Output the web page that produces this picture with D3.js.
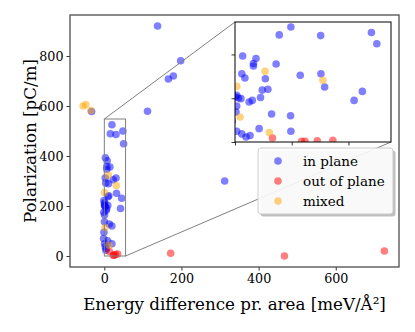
<!DOCTYPE html>
<html><head><meta charset="utf-8">
<script src="https://cdn.jsdelivr.net/npm/d3@7"></script>
<style>body{margin:0;background:#fff}svg{display:block}text{font-family:"DejaVu Serif",serif;fill:#000}</style>
</head><body><svg id="c" width="415" height="332"></svg>
<script>
// ---- data ----
const inPlaneX = [138,198,166,179,112,312,-33,
  19.7,15.6,30.2,48.1,50,2.7,7.4,6.5,6.5,14.5,2.4,3.5,10.7,23,30.3,31.6,9.6,11.6,0.6,1.2,2.1,5,6.1,9,0.6,0.35,12.9,19.6,44.9,42,0.6,2.4,3.9,5.3,8.5,19.7,-1,-1.5,-1,-2,0.2];
const inPlaneY = [920,781,708,720,579,300,578,
  525,489,486,500,449,393,381,358,347,356,312,292,289,305,312,251,237,241,213,201,198,183,190,203,164,137,128,120,231,190,49,37,23,30,61,49,222,175,95,70,205];
const outPlaneX = [172,467,726,13.2,23.5,24.7,29,34.5];
const outPlaneY = [11,0,20,18,3,3,6,8];
const mixedX = [-55,-48,-35,10.6,31,0.6,1.8,12.1];
const mixedY = [600,606,582,323,282,254,114,43];
const xTicks = [0,200,400,600];
const yTicks = [0,200,400,600,800];
const insetXTicks = [0,20,40];
const insetYTicks = [0,200,400];
const seriesNames = ["in plane","out of plane","mixed"];
const seriesColors = ["blue","red","orange"];

const series = [
  {name:seriesNames[0], color:seriesColors[0], x:inPlaneX, y:inPlaneY},
  {name:seriesNames[1], color:seriesColors[1], x:outPlaneX, y:outPlaneY},
  {name:seriesNames[2], color:seriesColors[2], x:mixedX, y:mixedY}
];

const svg = d3.select("#c");
const M = {l:70, r:399, t:15, b:267};
const x = d3.scaleLinear().domain([-89,764]).range([M.l,M.r]);
const y = d3.scaleLinear().domain([-44,964]).range([M.b,M.t]);
const R = 3.8, tickFont = "12.7px";

// main clip
svg.append("clipPath").attr("id","mc").append("rect").attr("x",M.l).attr("y",M.t).attr("width",M.r-M.l).attr("height",M.b-M.t);

// points
const gm = svg.append("g").attr("clip-path","url(#mc)");
series.forEach(s=>{
  gm.selectAll(null).data(s.x.map((d,i)=>[d,s.y[i]])).enter().append("circle")
    .attr("cx",d=>x(d[0])).attr("cy",d=>y(d[1])).attr("r",R)
    .attr("fill",s.color).attr("fill-opacity",0.5);
});

// axes
const xa = svg.append("g").attr("transform",`translate(0,${M.b})`)
  .call(d3.axisBottom(x).tickValues(xTicks).tickSize(3.5).tickPadding(3));
const ya = svg.append("g").attr("transform",`translate(${M.l},0)`)
  .call(d3.axisLeft(y).tickValues(yTicks).tickSize(3.5).tickPadding(3));
[xa,ya].forEach(a=>{a.select(".domain").remove();
  a.selectAll("text").style("font-family","DejaVu Serif").style("font-size",tickFont).attr("fill","#000");
  a.selectAll("line").attr("stroke","#000").attr("stroke-width",0.8);});

// inset region
const I = {l:235, r:391, t:22, b:142};
const xi = d3.scaleLinear().domain([0,55]).range([I.l,I.r]);
const yi = d3.scaleLinear().domain([0,548]).range([I.b,I.t]);

// zoom rectangle & connectors
const rx0 = x(0), rx1 = x(55), ry0 = y(548), ry1 = y(0);
svg.append("rect").attr("x",rx0).attr("y",ry0).attr("width",rx1-rx0).attr("height",ry1-ry0)
  .attr("fill","none").attr("stroke","#808080").attr("stroke-width",1);
svg.append("line").attr("x1",rx0).attr("y1",ry0).attr("x2",I.l).attr("y2",I.t).attr("stroke","#808080").attr("stroke-width",1);
svg.append("line").attr("x1",rx1).attr("y1",ry1).attr("x2",I.r).attr("y2",I.b).attr("stroke","#808080").attr("stroke-width",1);

// main frame
svg.append("rect").attr("x",M.l).attr("y",M.t).attr("width",M.r-M.l).attr("height",M.b-M.t)
  .attr("fill","none").attr("stroke","#4d4d4d").attr("stroke-width",1.3);

// inset
svg.append("rect").attr("x",I.l).attr("y",I.t).attr("width",I.r-I.l).attr("height",I.b-I.t).attr("fill","#fff");
svg.append("clipPath").attr("id","ic").append("rect").attr("x",I.l).attr("y",I.t).attr("width",I.r-I.l).attr("height",I.b-I.t);
const gi = svg.append("g").attr("clip-path","url(#ic)");
series.forEach(s=>{
  gi.selectAll(null).data(s.x.map((d,i)=>[d,s.y[i]])).enter().append("circle")
    .attr("cx",d=>xi(d[0])).attr("cy",d=>yi(d[1])).attr("r",R)
    .attr("fill",s.color).attr("fill-opacity",0.5);
});
const xia = svg.append("g").attr("transform",`translate(0,${I.b})`)
  .call(d3.axisBottom(xi).tickValues(insetXTicks).tickSize(3.5).tickFormat(""));
const yia = svg.append("g").attr("transform",`translate(${I.l},0)`)
  .call(d3.axisLeft(yi).tickValues(insetYTicks).tickSize(3.5).tickFormat(""));
[xia,yia].forEach(a=>{a.select(".domain").remove();a.selectAll("line").attr("stroke","#000").attr("stroke-width",0.8);});
svg.append("rect").attr("x",I.l).attr("y",I.t).attr("width",I.r-I.l).attr("height",I.b-I.t)
  .attr("fill","none").attr("stroke","#000").attr("stroke-width",1);

// legend
const L = {x:258, y:148, w:135, h:66};
svg.append("rect").attr("x",L.x+2.5).attr("y",L.y+2.5).attr("width",L.w).attr("height",L.h).attr("rx",3)
  .attr("fill","#000").attr("fill-opacity",0.25);
svg.append("rect").attr("x",L.x).attr("y",L.y).attr("width",L.w).attr("height",L.h).attr("rx",3)
  .attr("fill","#fff").attr("fill-opacity",0.9).attr("stroke","#ccc").attr("stroke-width",1);
series.forEach((s,i)=>{
  const cy = L.y + 13 + i*20;
  svg.append("circle").attr("cx",278).attr("cy",cy).attr("r",R).attr("fill",s.color).attr("fill-opacity",0.5);
  svg.append("text").attr("x",303).attr("y",cy).attr("dy","0.35em").style("font-size","13.5px").text(s.name);
});

// labels
svg.append("text").attr("x",(M.l+M.r)/2).attr("y",310).attr("text-anchor","middle").style("font-size","16.7px")
  .text("Energy difference pr. area [meV/Å²]");
svg.append("text").attr("transform",`translate(30,${(M.t+M.b)/2}) rotate(-90)`).attr("text-anchor","middle")
  .attr("dy","0.35em").style("font-size","16.7px").text("Polarization [pC/m]");
</script></body></html>
